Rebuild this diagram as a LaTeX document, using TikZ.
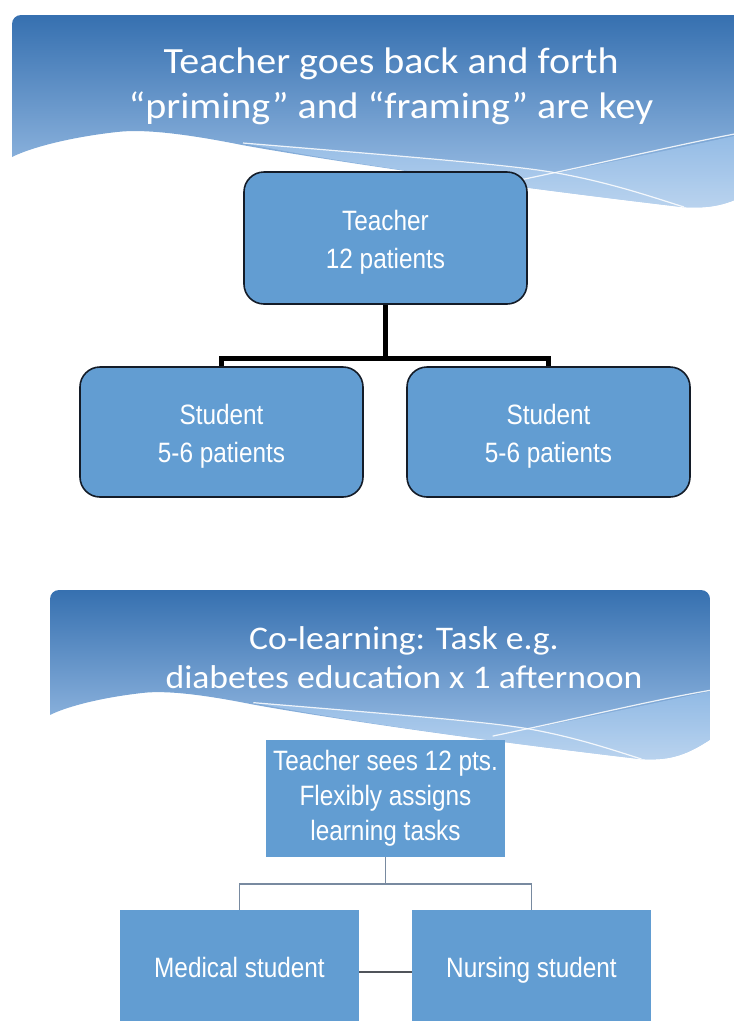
\documentclass[tikz,border=0pt]{standalone}
\usepackage{fontspec}
\setmainfont{Carlito}
\newfontfamily\titlefont[FakeStretch=1.08]{Carlito}
\newfontfamily\boxfont[FakeStretch=0.87]{Liberation Sans}
\definecolor{hdtop}{RGB}{54,112,176}
\definecolor{hdbot}{RGB}{165,198,234}
\definecolor{bandtop}{RGB}{150,190,232}
\definecolor{bandbot}{RGB}{190,214,240}
\definecolor{boxfill}{RGB}{98,157,210}
\definecolor{boxline}{RGB}{20,28,40}
\definecolor{thinconn}{RGB}{120,138,160}
\definecolor{midline}{RGB}{80,84,90}
\newcommand{\lowr}[1]{\raisebox{-4pt}[\height][\depth]{#1}}
\tikzset{
  roundbox/.style={draw=boxline, line width=1.6pt, fill=boxfill, rounded corners=20pt,
    minimum width=283pt, text=white, font=\boxfont\fontsize{28}{38}\selectfont, align=center, inner sep=0pt},
  squarebox/.style={fill=boxfill, text=white, font=\boxfont\fontsize{28}{35}\selectfont, align=center, inner sep=0pt,
    minimum width=239pt},
  thickconn/.style={draw=black, line width=5pt},
  slimconn/.style={draw=thinconn, line width=1.6pt},
  titletext/.style={text=white, font=\titlefont\fontsize{37}{45}\selectfont, align=center, inner sep=0pt},
  wline/.style={draw=white, line width=1.2pt, opacity=0.85}
}
\newcommand{\headershape}{%
  \shade[top color=hdtop, bottom color=hdbot]
    (0,142) [rounded corners=9pt] -- (0,0) -- (750,0) [sharp corners] -- (750,170)
    .. controls (720,190) and (700,194) .. (670,192)
    .. controls (500,172) and (330,148) .. (230,130)
    .. controls (170,118) and (130,114) .. (105,117)
    .. controls (60,122) and (20,132) .. (0,142) -- cycle;
  \shade[top color=bandtop, bottom color=bandbot, opacity=0.85]
    (231,128) .. controls (350,138) and (470,148) .. (545,158)
    .. controls (620,143) and (690,128) .. (750,115) -- (750,170)
    .. controls (720,190) and (700,194) .. (670,192)
    .. controls (500,172) and (330,148) .. (231,128) -- cycle;
  \draw[wline] (231,128) .. controls (400,142) and (500,150) .. (545,158)
    .. controls (600,168) and (640,182) .. (672,192);
  \draw[wline] (503,166) .. controls (600,146) and (680,126) .. (750,114);
}
\begin{document}
\begin{tikzpicture}[x=1pt,y=-1pt]
\useasboundingbox (0,0) rectangle (734,1021);
\begin{scope}
\clip (0,0) rectangle (734,1021);
% top header
\begin{scope}[shift={(12,15)}]
\headershape
\end{scope}
\node[titletext] (title1) at (391,86) {Teacher goes back and forth\\“priming” and “framing” are key};
% top diagram
\node[roundbox, minimum height=132pt] (t1) at (385.5,238) {\lowr{Teacher}\\\lowr{12 patients}};
\node[roundbox, minimum height=130pt] (s1) at (221.5,432) {\lowr{Student}\\\lowr{5-6 patients}};
\node[roundbox, minimum height=130pt] (s2) at (548.5,432) {\lowr{Student}\\\lowr{5-6 patients}};
\coordinate (j1) at (385.5,358);
\draw[thickconn] (t1.south) -- (j1);
\draw[thickconn] (s1.north) |- (j1) -| (s2.north);
% bottom header
\begin{scope}[shift={(50,590)}, scale=0.88]
\headershape
\end{scope}
\node[titletext, font=\titlefont\fontsize{33}{39}\selectfont] (title2) at (404,658) {Co-learning: Task e.g.\\diabetes education x 1 afternoon};
% bottom diagram
\node[squarebox, minimum height=117pt] (t2) at (385.5,798.5) {Teacher sees 12 pts.\\Flexibly assigns\\learning tasks};
\node[squarebox, minimum height=120pt, text height=20pt, text depth=6pt] (m1) at (239.5,970) {Medical student};
\node[squarebox, minimum height=120pt, text height=20pt, text depth=6pt] (n1) at (531.5,970) {Nursing student};
\coordinate (j2) at (385.5,884);
\draw[slimconn] (t2.south) -- (j2);
\draw[slimconn] (m1.north) |- (j2) -| (n1.north);
\draw[draw=midline, line width=2pt] (m1.east |- 0,972) -- (n1.west |- 0,972);
\end{scope}
\end{tikzpicture}
\end{document}
